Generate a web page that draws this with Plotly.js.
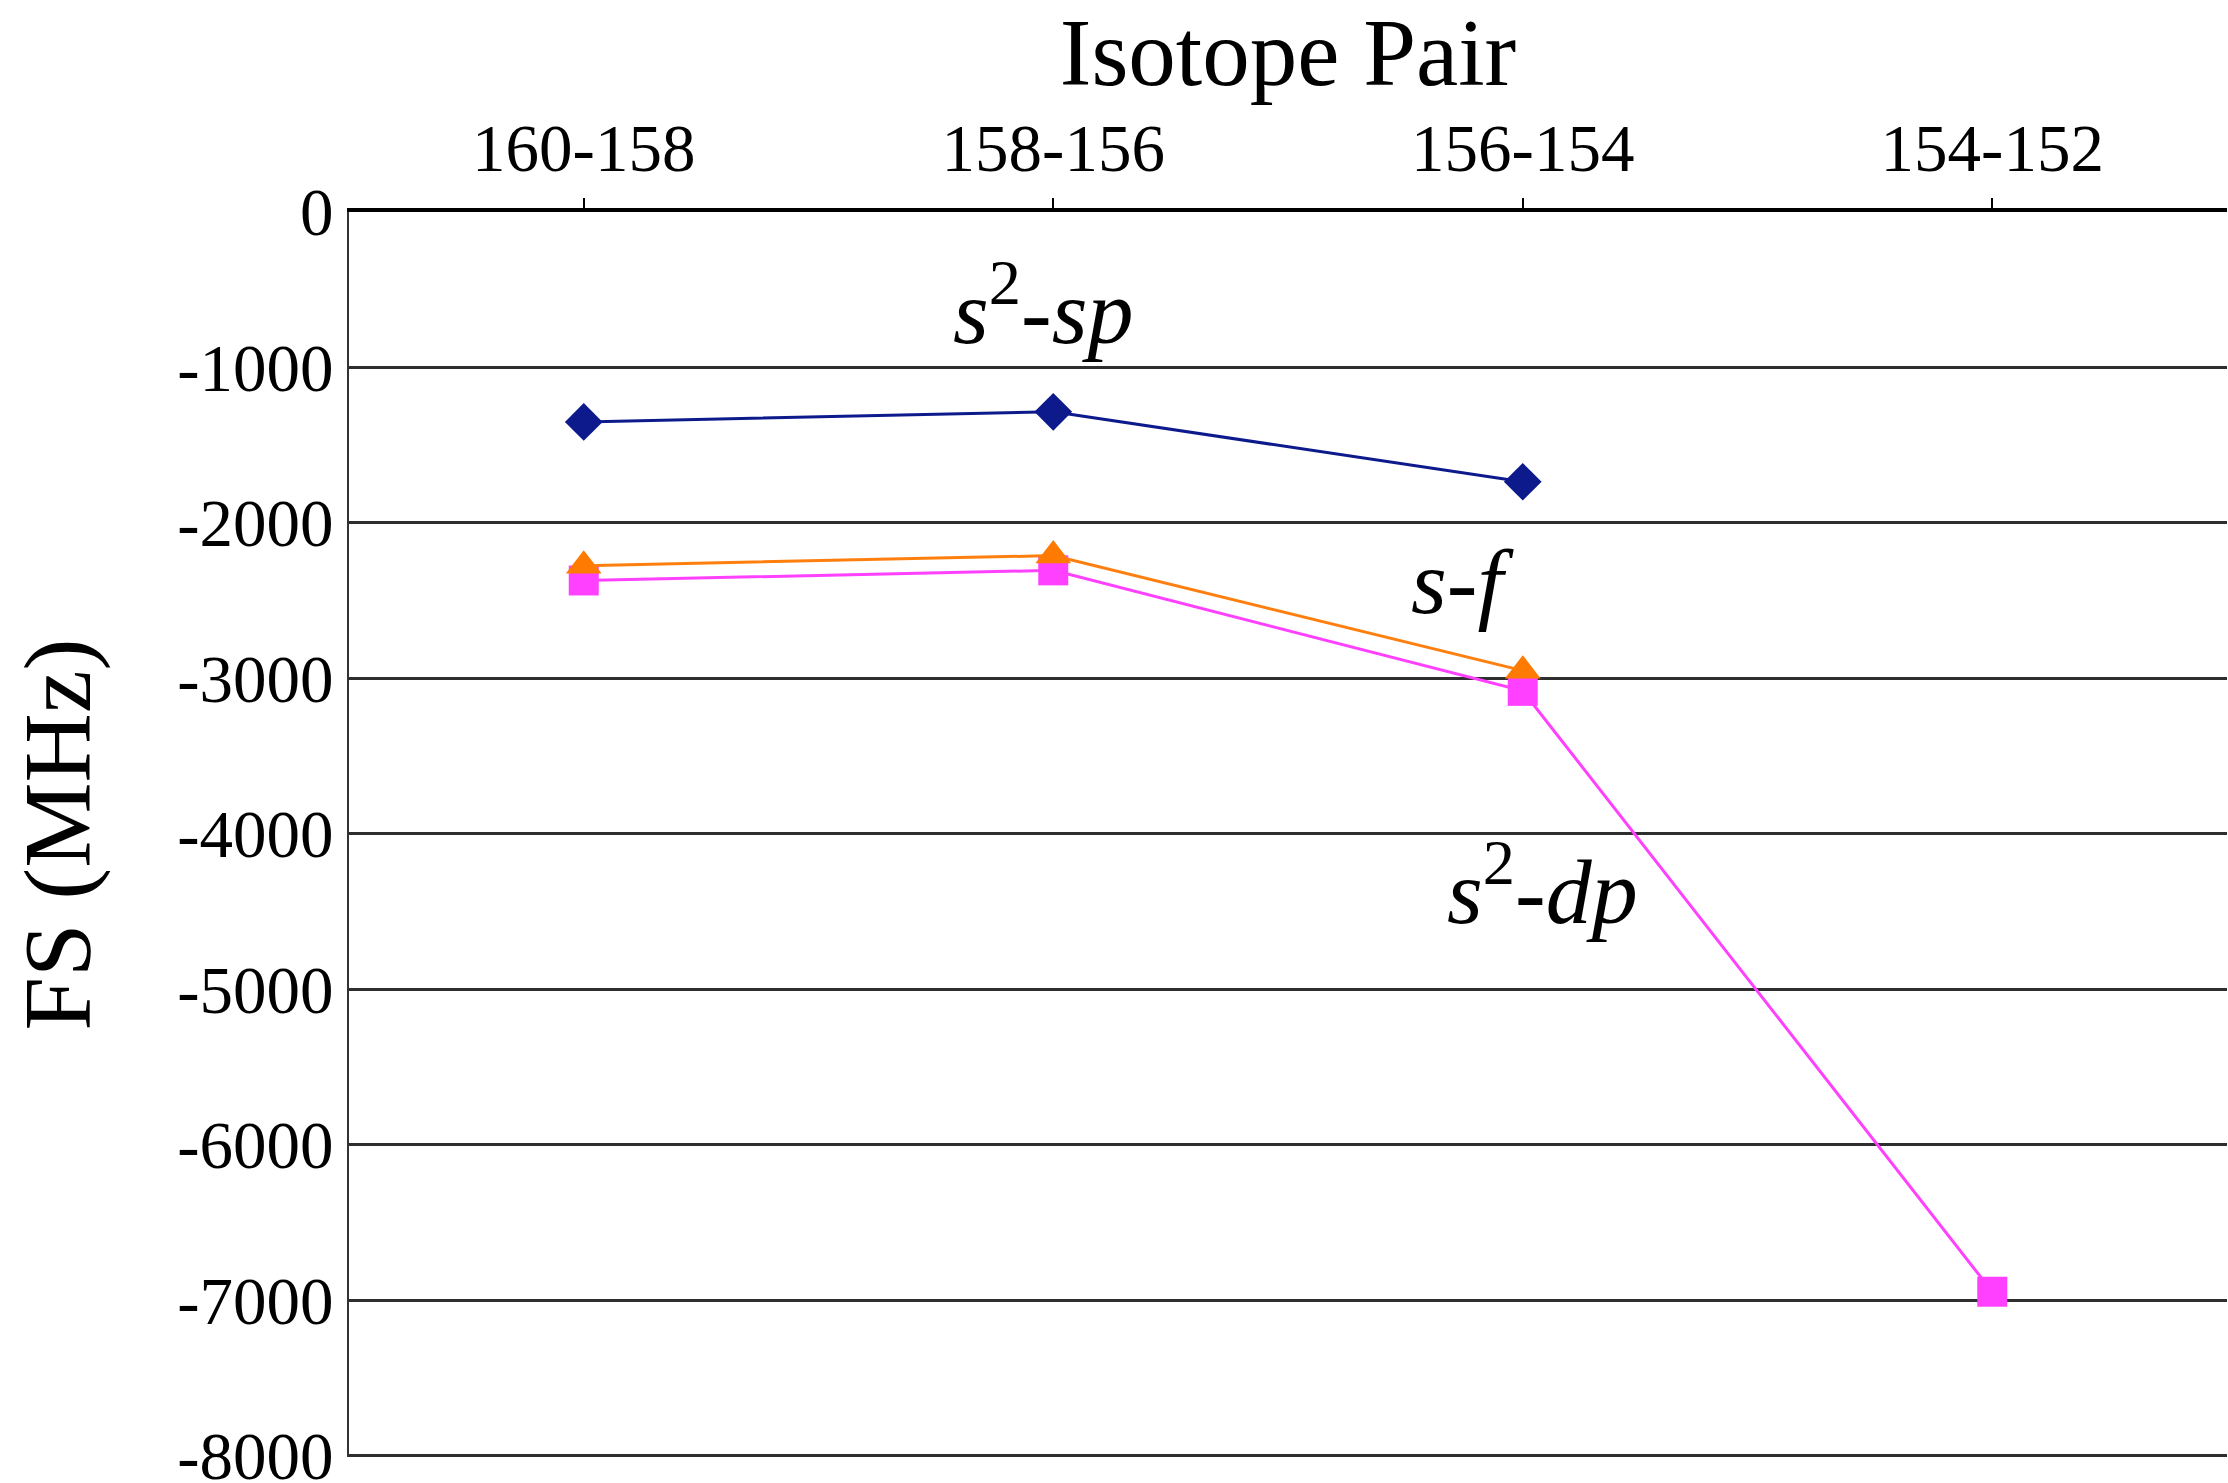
<!DOCTYPE html>
<html>
<head>
<meta charset="utf-8">
<script src="https://cdn.plot.ly/plotly-3.0.1.min.js"></script>
<style>html,body{margin:0;padding:0;background:#fff;}#chart{width:2228px;height:1483px;}</style>
</head>
<body>
<div id="chart"></div>
<script>
var categories = ["160-158", "158-156", "156-154", "154-152"];
var s2sp = [-1350, -1285, -1735, null];
var sf = [-2275, -2210, -2950, null];
var s2dp = [-2370, -2305, -3080, -6945];
var yTickVals = [0, -1000, -2000, -3000, -4000, -5000, -6000, -7000, -8000];
var yTickText = ["0", "-1000", "-2000", "-3000", "-4000", "-5000", "-6000", "-7000", "-8000"];
var seriesLabels = ["<i>s</i><sup>2</sup>-<i>sp</i>", "<i>s</i>-<i>f</i>", "<i>s</i><sup>2</sup>-<i>dp</i>"];

var FONT = "Liberation Serif, Times New Roman, serif";

var traces = [
  {x: categories, y: s2dp, type: "scatter", mode: "lines+markers", name: "s2-dp",
   line: {color: "#ff40ff", width: 3}, marker: {symbol: "square", size: 30, color: "#ff40ff"}},
  {x: categories, y: sf, type: "scatter", mode: "lines+markers", name: "s-f",
   line: {color: "#ff7f0e", width: 3}, marker: {symbol: "triangle-up", size: 31, color: "#ff7a00"}},
  {x: categories, y: s2sp, type: "scatter", mode: "lines+markers", name: "s2-sp",
   line: {color: "#0d1a8c", width: 3}, marker: {symbol: "diamond", size: 29, color: "#0d1a8c"}}
];

var layout = {
  width: 2228, height: 1483,
  paper_bgcolor: "#ffffff", plot_bgcolor: "#ffffff",
  showlegend: false,
  margin: {l: 349, r: 1, t: 212, b: 26},
  font: {family: FONT, color: "#000", size: 67},
  xaxis: {
    type: "category", side: "top", range: [-0.5, 3.5],
    showgrid: false, zeroline: false,
    showline: true, linecolor: "#000", linewidth: 4,
    ticks: "outside", ticklen: 10, tickwidth: 2, tickcolor: "#000",
    tickfont: {family: FONT, size: 67, color: "#000"},
    title: {text: "Isotope Pair", font: {family: FONT, size: 95, color: "#000"}, standoff: 16}
  },
  yaxis: {
    range: [-8008, 0], tickmode: "array", tickvals: yTickVals, ticktext: yTickText,
    ticklabeloverflow: "allow",
    showgrid: true, gridcolor: "#2e2e2e", gridwidth: 3, zeroline: false,
    showline: true, linecolor: "#333", linewidth: 2,
    ticks: "", ticklabelstandoff: 0,
    tickfont: {family: FONT, size: 67, color: "#000"},
    title: {text: "FS (MHz)", font: {family: FONT, size: 96, color: "#000"}, standoff: 55}
  },
  annotations: [
    {x: 1, y: -600, xref: "x", yref: "y", text: seriesLabels[0], showarrow: false,
     font: {family: FONT, size: 92, color: "#000"}, xanchor: "center", yanchor: "middle", xshift: -10},
    {x: 2, y: -2380, xref: "x", yref: "y", text: seriesLabels[1], showarrow: false,
     font: {family: FONT, size: 92, color: "#000"}, xanchor: "center", yanchor: "middle", xshift: -60},
    {x: 2, y: -4330, xref: "x", yref: "y", text: seriesLabels[2], showarrow: false,
     font: {family: FONT, size: 92, color: "#000"}, xanchor: "center", yanchor: "middle", xshift: 20}
  ]
};

Plotly.newPlot("chart", traces, layout, {staticPlot: true, displayModeBar: false});
</script>
</body>
</html>
